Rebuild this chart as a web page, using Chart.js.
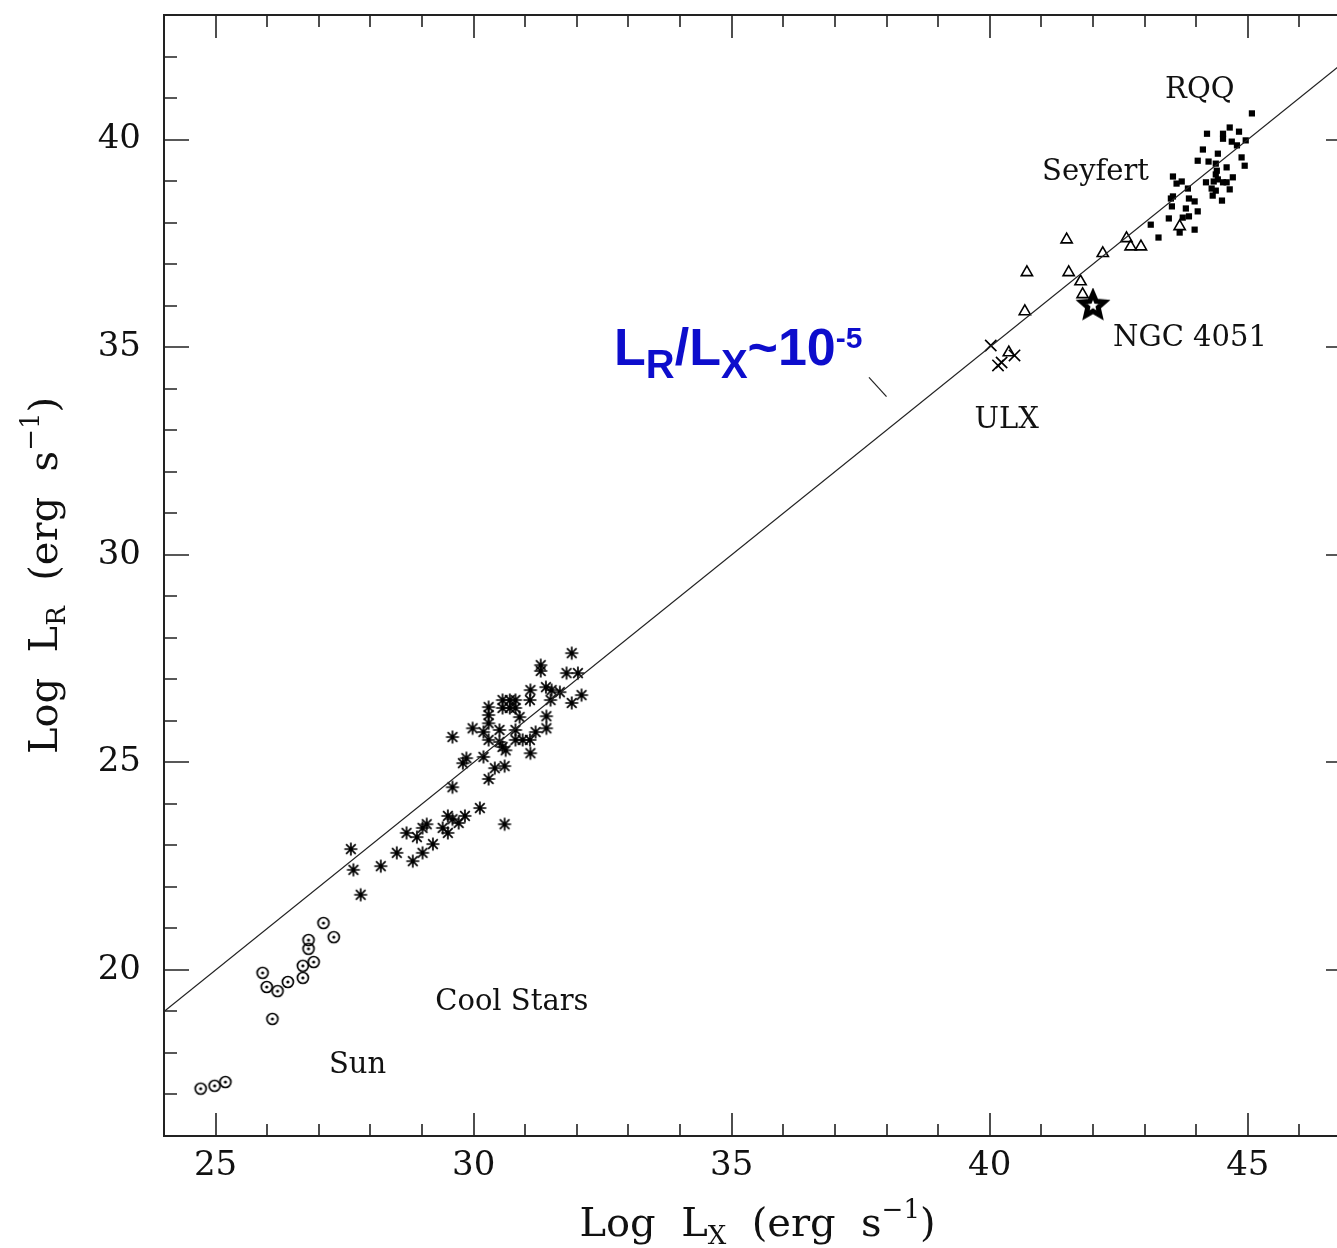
<!DOCTYPE html>
<html>
<head>
<meta charset="utf-8">
<script src="https://cdn.jsdelivr.net/npm/chart.js@4.4.0/dist/chart.umd.min.js"></script>
<style>
  html, body { margin: 0; padding: 0; background: #fff; overflow: hidden; }
  #wrap { width: 1360px; height: 1248px; }
</style>
</head>
<body>
<div id="wrap"><canvas id="myChart" width="1360" height="1248"></canvas></div>
<script>
// axis ticks
var xTickLabels = [25, 30, 35, 40, 45];
var yTickLabels = [20, 25, 30, 35, 40];

// Sun
var sunLx = [24.71, 24.98, 25.19];
var sunLr = [17.14, 17.21, 17.30];

// cool stars (circles)
var coolCircLx = [27.09, 27.29, 26.80, 26.80, 26.90, 26.69, 26.69, 25.91, 25.99, 26.20, 26.40, 26.10];
var coolCircLr = [21.13, 20.79, 20.72, 20.51, 20.19, 20.10, 19.81, 19.93, 19.59, 19.49, 19.71, 18.82];

// cool stars (asterisks)
var coolLx = [31.90, 31.30, 31.30, 31.80, 32.02, 32.09, 31.90, 31.40, 31.51, 31.67, 31.49, 31.10, 31.09,
              30.56, 30.70, 30.81, 30.56, 30.70, 30.81, 30.29, 30.29, 30.89, 31.41, 30.29, 29.98, 30.19,
              30.50, 30.81, 31.20, 31.41, 30.29, 30.50, 30.56, 30.62, 30.81, 30.95, 31.09, 29.59, 31.10,
              30.19, 29.86, 29.79, 30.41, 30.60, 30.29, 29.59, 30.12, 30.60, 29.50, 29.59, 29.71, 29.83,
              29.40, 29.50, 29.09, 29.01, 28.70, 28.90, 29.21, 29.01, 28.82, 28.51, 28.20, 27.62, 27.67, 27.81];
var coolLr = [27.63, 27.34, 27.20, 27.15, 27.15, 26.62, 26.43, 26.81, 26.74, 26.69, 26.50, 26.74, 26.50,
              26.50, 26.50, 26.50, 26.31, 26.31, 26.31, 26.33, 26.14, 26.09, 26.11, 25.94, 25.82, 25.73,
              25.78, 25.78, 25.73, 25.82, 25.54, 25.49, 25.37, 25.29, 25.54, 25.54, 25.54, 25.61, 25.22,
              25.13, 25.10, 24.98, 24.86, 24.91, 24.60, 24.40, 23.90, 23.51, 23.71, 23.63, 23.54, 23.71,
              23.42, 23.30, 23.51, 23.42, 23.30, 23.20, 23.03, 22.82, 22.62, 22.82, 22.50, 22.91, 22.41, 21.81];

// ULX
var ulxLx = [40.02, 40.16, 40.23, 40.48];
var ulxLr = [35.04, 34.56, 34.63, 34.80];

// Seyferts
var seyLx = [41.49, 40.72, 41.53, 41.76, 41.80, 40.68, 40.37, 42.19, 42.65, 42.73, 42.93, 43.68];
var seyLr = [37.59, 36.80, 36.80, 36.58, 36.27, 35.86, 34.87, 37.26, 37.62, 37.42, 37.42, 37.91];

// radio-quiet quasars
var rqqLx = [45.08, 44.21, 44.52, 44.52, 44.65, 44.83, 44.69, 44.79, 44.13, 44.42, 44.96, 44.88, 44.94,
             44.03, 44.24, 44.38, 44.40, 44.59, 44.38, 44.42, 44.71, 44.19, 44.34, 44.52, 44.59, 44.65,
             44.30, 44.38, 44.32, 44.50, 43.55, 43.62, 43.72, 43.84, 43.55, 43.51, 43.86, 43.97, 43.53,
             43.80, 44.03, 43.47, 43.74, 43.86, 43.12, 43.97, 43.68, 43.27];
var rqqLr = [40.63, 40.14, 40.14, 40.02, 40.29, 40.19, 39.95, 39.86, 39.76, 39.66, 39.98, 39.57, 39.37,
             39.49, 39.47, 39.42, 39.25, 39.33, 39.16, 39.04, 39.09, 38.97, 38.99, 38.97, 38.97, 38.80,
             38.82, 38.77, 38.65, 38.53, 39.11, 38.94, 38.99, 38.82, 38.63, 38.58, 38.58, 38.51, 38.39,
             38.34, 38.27, 38.10, 38.12, 38.15, 37.95, 37.83, 37.76, 37.64];

// NGC 4051
var ngcLx = [42.0];
var ngcLr = [36.0];

// L_R/L_X = 1e-5 line and the label pointer
var fitLx = [24, 47];
var fitLr = [19, 42];
var leaderLx = [37.66, 38.0];
var leaderLr = [34.27, 33.81];

function pairs(xs, ys) {
    var out = [];
    for (var i = 0; i < xs.length; i++) out.push({ x: xs[i], y: ys[i] });
    return out;
}

function makeCanvas(size, draw) {
    var c = document.createElement('canvas');
    c.width = size; c.height = size;
    draw(c.getContext('2d'), size / 2);
    return c;
}

var circDot = makeCanvas(16, function(g, c) {
    g.strokeStyle = '#000'; g.lineWidth = 1.7;
    g.beginPath(); g.arc(c, c, 5.5, 0, Math.PI * 2); g.stroke();
    g.fillStyle = '#000';
    g.beginPath(); g.arc(c, c, 1.6, 0, Math.PI * 2); g.fill();
});

var asterisk = makeCanvas(16, function(g, c) {
    g.strokeStyle = '#000'; g.lineWidth = 1.7;
    g.beginPath();
    g.moveTo(c - 6.5, c); g.lineTo(c + 6.5, c);
    g.moveTo(c, c - 6.5); g.lineTo(c, c + 6.5);
    g.moveTo(c - 4.8, c - 4.8); g.lineTo(c + 4.8, c + 4.8);
    g.moveTo(c - 4.8, c + 4.8); g.lineTo(c + 4.8, c - 4.8);
    g.stroke();
    g.fillStyle = '#000';
    g.beginPath(); g.arc(c, c, 1.6, 0, Math.PI * 2); g.fill();
});

var bigStar = makeCanvas(36, function(g, c) {
    g.beginPath();
    for (var i = 0; i < 10; i++) {
        var r = i % 2 === 0 ? 12 : 5.5;
        var a = -Math.PI / 2 + i * Math.PI / 5;
        g.lineTo(c + r * Math.cos(a), c + r * Math.sin(a));
    }
    g.closePath();
    g.fillStyle = '#fff'; g.fill();
    g.strokeStyle = '#000'; g.lineWidth = 5; g.lineJoin = 'miter'; g.stroke();
});

// rich text: parts = [text, scale, shift(em)]
function drawRich(ctx, parts, x, y, size, family, weight, align) {
    var total = 0, widths = [];
    parts.forEach(function(p) {
        ctx.font = weight + ' ' + Math.round(size * p[1]) + 'px ' + family;
        var w = ctx.measureText(p[0]).width;
        widths.push(w); total += w;
    });
    var cx = align === 'center' ? x - total / 2 : x;
    ctx.textAlign = 'left';
    ctx.textBaseline = 'alphabetic';
    parts.forEach(function(p, i) {
        ctx.font = weight + ' ' + Math.round(size * p[1]) + 'px ' + family;
        ctx.fillText(p[0], cx, y + p[2] * size);
        cx += widths[i];
    });
}

// no extra label padding around the axes
function noPad(s) {
    s.paddingTop = 0; s.paddingBottom = 0; s.paddingLeft = 0; s.paddingRight = 0;
}

var framePlugin = {
    id: 'frame',
    afterDatasetsDraw: function(chart) {
        var ctx = chart.ctx, a = chart.chartArea;
        var xs = chart.scales.x, ys = chart.scales.y;
        ctx.save();
        ctx.strokeStyle = '#222';
        ctx.lineWidth = 2;
        ctx.strokeRect(a.left, a.top, a.right - a.left, a.bottom - a.top);
        ctx.lineWidth = 1.6;
        ctx.beginPath();
        for (var v = 24; v <= 47; v++) {
            var len = v % 5 === 0 ? 23 : 12;
            var px = Math.round(xs.getPixelForValue(v));
            ctx.moveTo(px, a.bottom); ctx.lineTo(px, a.bottom - len);
            ctx.moveTo(px, a.top); ctx.lineTo(px, a.top + len);
        }
        for (var w = 16; w <= 43; w++) {
            var l2 = w % 5 === 0 ? 25 : 13;
            var py = Math.round(ys.getPixelForValue(w));
            ctx.moveTo(a.left, py); ctx.lineTo(a.left + l2, py);
            ctx.moveTo(a.right, py); ctx.lineTo(a.right - l2, py);
        }
        ctx.stroke();

        // labels inside the plot
        ctx.fillStyle = '#111';
        ctx.font = '29px "DejaVu Serif"';
        ctx.textAlign = 'center';
        ctx.textBaseline = 'middle';
        function put(t, vx, vy) {
            ctx.fillText(t, xs.getPixelForValue(vx), ys.getPixelForValue(vy));
        }
        put('RQQ', 44.07, 41.18);
        put('Seyfert', 42.05, 39.21);
        put('NGC 4051', 43.88, 35.21);
        put('ULX', 40.33, 33.24);
        put('Cool Stars', 30.74, 19.21);
        put('Sun', 27.75, 17.71);

        // blue ratio label
        ctx.fillStyle = '#0d0dcc';
        drawRich(ctx, [['L', 1, 0], ['R', 0.77, 0.25], ['/', 1, 0], ['L', 1, 0], ['X', 0.77, 0.25],
                       ['~10', 1, 0], ['-5', 0.58, -0.33]],
                 xs.getPixelForValue(32.72), ys.getPixelForValue(34.56), 52, '"Liberation Sans", Arial', 'bold', 'left');

        // axis titles
        ctx.fillStyle = '#111';
        drawRich(ctx, [['Log  L', 1, 0], ['X', 0.65, 0.2], ['  (erg  s', 1, 0], ['\u22121', 0.65, -0.45], [')', 1, 0]],
                 (a.left + a.right) / 2, 1236, 40, '"DejaVu Serif"', 'normal', 'center');
        ctx.translate(57, (a.top + a.bottom) / 2);
        ctx.rotate(-Math.PI / 2);
        drawRich(ctx, [['Log  L', 1, 0], ['R', 0.65, 0.2], ['  (erg  s', 1, 0], ['\u22121', 0.65, -0.45], [')', 1, 0]],
                 0, 0, 40, '"DejaVu Serif"', 'normal', 'center');
        ctx.restore();
    }
};

var ctx = document.getElementById('myChart').getContext('2d');
var myChart = new Chart(ctx, {
    type: 'scatter',
    data: {
        datasets: [{
            label: 'fit',
            data: pairs(fitLx, fitLr),
            showLine: true,
            borderColor: '#222',
            borderWidth: 1.2,
            pointRadius: 0
        }, {
            label: 'pointer',
            data: pairs(leaderLx, leaderLr),
            showLine: true,
            borderColor: '#222',
            borderWidth: 1.2,
            pointRadius: 0
        }, {
            label: 'Sun',
            data: pairs(sunLx, sunLr),
            pointStyle: circDot,
            pointRadius: 6
        }, {
            label: 'Cool stars (circles)',
            data: pairs(coolCircLx, coolCircLr),
            pointStyle: circDot,
            pointRadius: 6
        }, {
            label: 'Cool stars',
            data: pairs(coolLx, coolLr),
            pointStyle: asterisk,
            pointRadius: 6
        }, {
            label: 'ULX',
            data: pairs(ulxLx, ulxLr),
            pointStyle: 'crossRot',
            pointRadius: 8,
            borderColor: '#000',
            borderWidth: 1.6
        }, {
            label: 'Seyfert',
            data: pairs(seyLx, seyLr),
            pointStyle: 'triangle',
            pointRadius: 6.5,
            borderColor: '#000',
            backgroundColor: 'rgba(0,0,0,0)',
            borderWidth: 1.6
        }, {
            label: 'RQQ',
            data: pairs(rqqLx, rqqLr),
            pointStyle: 'rect',
            pointRadius: 4.4,
            borderWidth: 0,
            backgroundColor: '#000'
        }, {
            label: 'NGC 4051',
            data: pairs(ngcLx, ngcLr),
            pointStyle: bigStar,
            pointRadius: 14
        }]
    },
    plugins: [framePlugin],
    options: {
        responsive: false,
        animation: false,
        layout: { autoPadding: false, padding: { top: 15, right: 9, left: 0, bottom: 0 } },
        plugins: {
            legend: { display: false },
            tooltip: { enabled: false }
        },
        scales: {
            x: {
                type: 'linear',
                min: 24,
                max: 47,
                afterFit: function(s) { s.height = 112; noPad(s); },
                afterBuildTicks: function(s) {
                    s.ticks = xTickLabels.map(function(v) { return { value: v }; });
                },
                grid: { display: false, drawTicks: false },
                border: { display: false },
                ticks: {
                    padding: 10,
                    color: '#111',
                    maxRotation: 0,
                    autoSkip: false,
                    font: { family: 'DejaVu Serif', size: 34 }
                }
            },
            y: {
                type: 'linear',
                min: 16,
                max: 43,
                afterFit: function(s) { s.width = 164; noPad(s); },
                afterBuildTicks: function(s) {
                    s.ticks = yTickLabels.map(function(v) { return { value: v }; });
                },
                grid: { display: false, drawTicks: false },
                border: { display: false },
                ticks: {
                    padding: 23,
                    color: '#111',
                    autoSkip: false,
                    font: { family: 'DejaVu Serif', size: 34 }
                }
            }
        }
    }
});
</script>
</body>
</html>
